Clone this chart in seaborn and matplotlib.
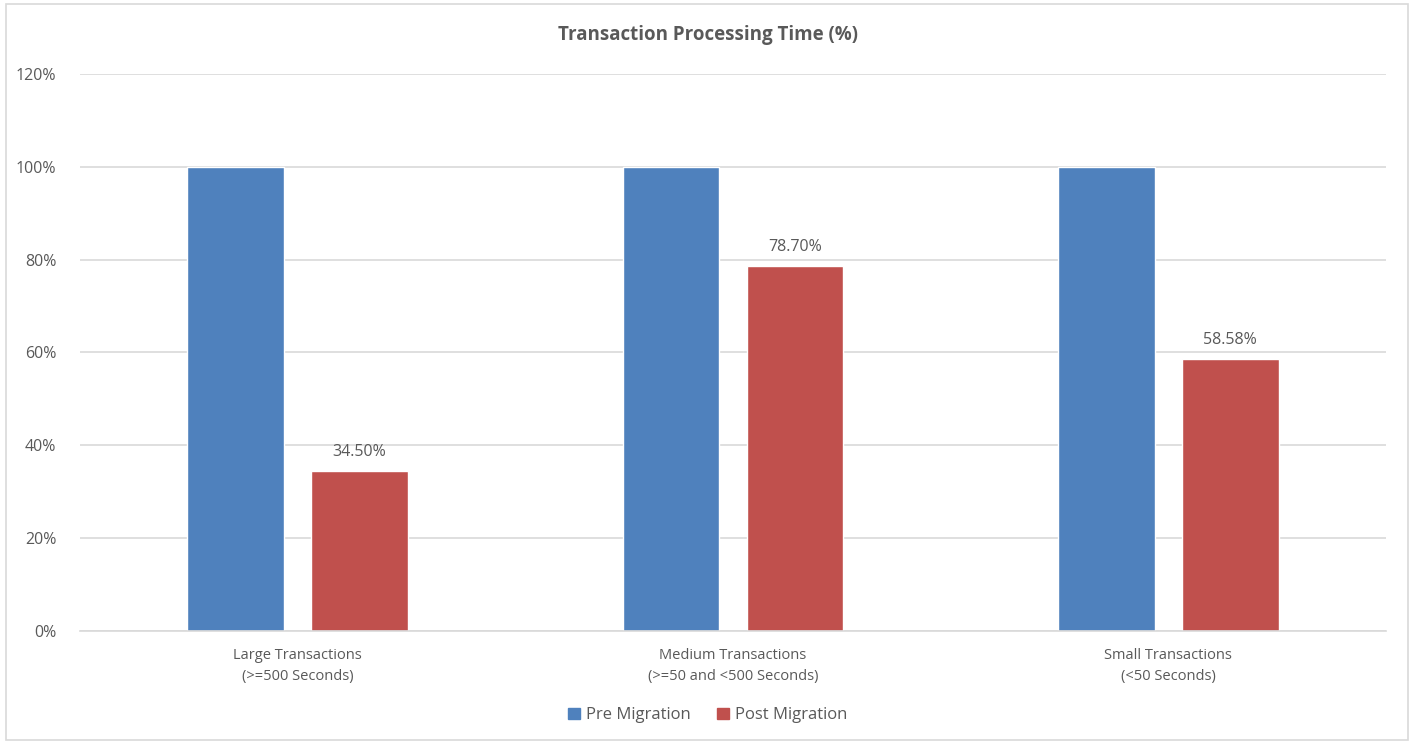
import pandas as pd
import seaborn as sns
import matplotlib.pyplot as plt
from matplotlib.ticker import PercentFormatter
from matplotlib.patches import Rectangle

categories = ["Large Transactions\n(>=500 Seconds)",
              "Medium Transactions\n(>=50 and <500 Seconds)",
              "Small Transactions\n(<50 Seconds)"]
series = ["Pre Migration", "Post Migration"]
pre_values = [1.0, 1.0, 1.0]
post_values = [0.345, 0.787, 0.5858]
post_labels = ["34.50%", "78.70%", "58.58%"]

data = pd.DataFrame({
    "Category": categories * 2,
    "Series": [series[0]] * 3 + [series[1]] * 3,
    "Value": pre_values + post_values,
})

sns.set_theme(style="white")
plt.rcParams['font.family'] = ['Open Sans', 'DejaVu Sans']
text_col = "#595959"
grid_col = "#D9D9D9"

fig = plt.figure(figsize=(14.15, 7.42), dpi=100)
ax = fig.add_axes([0.0565, 0.1496, 0.9230, 0.7507])

sns.barplot(data=data, x="Category", y="Value", hue="Series",
            palette=["#4F81BD", "#C0504D"], width=0.57, gap=0.22,
            saturation=1, ax=ax, legend=False)

ax.bar_label(ax.containers[1], labels=post_labels, padding=8,
             fontsize=11.5, color=text_col)

ax.set_xlim(-0.5, 2.5)
ax.set_ylim(0, 1.2)
ax.set_yticks([0, 0.2, 0.4, 0.6, 0.8, 1.0, 1.2])
ax.yaxis.set_major_formatter(PercentFormatter(1.0, decimals=0))
ax.grid(axis="y", color=grid_col, linewidth=1.2)
ax.set_axisbelow(True)
for s in ["top", "right", "left"]:
    ax.spines[s].set_visible(False)
ax.spines["bottom"].set_color(grid_col)
ax.spines["bottom"].set_linewidth(1.2)
ax.tick_params(axis="both", length=0, colors=text_col, labelsize=11.5)
ax.tick_params(axis="x", labelsize=10.5, pad=12)
ax.tick_params(axis="y", pad=17)
for lbl in ax.get_xticklabels():
    lbl.set_linespacing(1.55)
ax.set_xlabel("")
ax.set_ylabel("")

fig.suptitle("Transaction Processing Time (%)", x=0.5, y=0.953, va="center",
             fontsize=13.5, fontweight="bold", color=text_col)

handles = [Rectangle((0, 0), 1, 1, color=c) for c in ["#4F81BD", "#C0504D"]]
leg = fig.legend(handles, series, loc="center", bbox_to_anchor=(0.5, 0.036), ncol=2,
                 frameon=False, fontsize=12, handlelength=0.7, handleheight=0.7,
                 handletextpad=0.35, columnspacing=1.6)
for t in leg.get_texts():
    t.set_color(text_col)

fig.patches.append(Rectangle((0.004, 0.003), 0.991, 0.992, transform=fig.transFigure,
                             fill=False, edgecolor=grid_col, linewidth=1.2))

fig.savefig("out.png", dpi=100)
